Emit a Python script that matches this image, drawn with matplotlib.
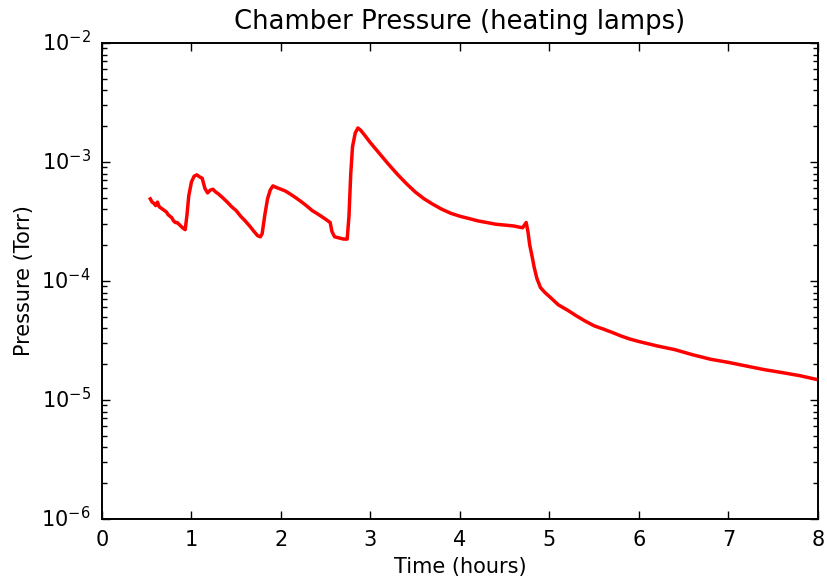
import matplotlib
matplotlib.use("Agg")
import matplotlib.pyplot as plt
from matplotlib.ticker import LogLocator, NullFormatter

plt.style.use("classic")
plt.rcParams["mathtext.fontset"] = "dejavusans"
plt.rcParams["font.family"] = ["DejaVu Sans"]

# time (hours) and pressure (Torr)
time_h = [0.54, 0.56, 0.58, 0.60, 0.62, 0.64, 0.66, 0.68, 0.70, 0.72, 0.74, 0.76,
          0.78, 0.80, 0.82, 0.84, 0.86, 0.88, 0.90, 0.93,
          0.95, 0.97, 1.00, 1.03, 1.06, 1.09, 1.12, 1.15, 1.18, 1.21, 1.24, 1.27,
          1.30, 1.35, 1.40, 1.45, 1.50, 1.55, 1.60, 1.65, 1.70, 1.74, 1.77, 1.79,
          1.82, 1.85, 1.88, 1.91, 1.95, 2.00, 2.05, 2.10, 2.15, 2.20, 2.25, 2.30,
          2.35, 2.40, 2.45, 2.50, 2.55, 2.57, 2.60, 2.65, 2.70, 2.74,
          2.76, 2.78, 2.80, 2.83, 2.86, 2.89, 2.93, 3.00, 3.10, 3.20, 3.30, 3.40,
          3.50, 3.60, 3.70, 3.80, 3.90, 4.00, 4.10, 4.20, 4.30, 4.40, 4.50, 4.60,
          4.70, 4.74, 4.76, 4.78, 4.80, 4.83, 4.86, 4.90, 4.95, 5.00, 5.10, 5.20,
          5.30, 5.40, 5.50, 5.60, 5.70, 5.80, 5.90, 6.00, 6.20, 6.40, 6.60, 6.80,
          7.00, 7.20, 7.40, 7.60, 7.80, 8.00]
pressure_torr = [4.9e-4, 4.6e-4, 4.5e-4, 4.3e-4, 4.6e-4, 4.2e-4, 4.1e-4, 4.0e-4,
                 3.9e-4, 3.8e-4, 3.6e-4, 3.5e-4, 3.4e-4, 3.2e-4, 3.1e-4, 3.1e-4,
                 3.0e-4, 2.9e-4, 2.8e-4, 2.7e-4,
                 3.6e-4, 5.2e-4, 6.8e-4, 7.6e-4, 7.8e-4, 7.5e-4, 7.3e-4, 6.0e-4,
                 5.5e-4, 5.8e-4, 5.9e-4, 5.6e-4, 5.4e-4, 5.0e-4, 4.6e-4, 4.2e-4,
                 3.9e-4, 3.5e-4, 3.2e-4, 2.9e-4, 2.6e-4, 2.4e-4, 2.35e-4, 2.5e-4,
                 3.6e-4, 4.9e-4, 5.8e-4, 6.3e-4, 6.1e-4, 5.9e-4, 5.7e-4, 5.4e-4,
                 5.1e-4, 4.8e-4, 4.5e-4, 4.2e-4, 3.9e-4, 3.7e-4, 3.5e-4, 3.3e-4,
                 3.1e-4, 2.6e-4, 2.35e-4, 2.3e-4, 2.25e-4, 2.25e-4,
                 3.5e-4, 8.0e-4, 1.35e-3, 1.75e-3, 1.93e-3, 1.85e-3, 1.70e-3, 1.45e-3,
                 1.18e-3, 9.6e-4, 7.9e-4, 6.6e-4, 5.6e-4, 4.9e-4, 4.4e-4, 4.0e-4,
                 3.7e-4, 3.5e-4, 3.35e-4, 3.2e-4, 3.1e-4, 3.0e-4, 2.95e-4, 2.9e-4,
                 2.8e-4, 3.1e-4, 2.6e-4, 2.0e-4, 1.7e-4, 1.3e-4, 1.05e-4, 8.8e-5,
                 8.0e-5, 7.4e-5, 6.3e-5, 5.7e-5, 5.1e-5, 4.6e-5, 4.2e-5, 3.95e-5,
                 3.7e-5, 3.45e-5, 3.25e-5, 3.1e-5, 2.85e-5, 2.65e-5, 2.4e-5, 2.2e-5,
                 2.07e-5, 1.93e-5, 1.8e-5, 1.7e-5, 1.6e-5, 1.48e-5]

fig = plt.figure(figsize=(8.27, 5.84), dpi=100, facecolor="white")
ax = fig.add_axes([0.1233, 0.1113, 0.8657, 0.8151])
ax.plot(time_h, pressure_torr, color="red", linewidth=2.5)
ax.set_yscale("log")
ax.set_xlim(0, 8)
ax.set_ylim(1e-6, 1e-2)
ax.yaxis.set_minor_locator(LogLocator(subs=range(2, 10), numticks=100))
ax.yaxis.set_minor_formatter(NullFormatter())
ax.tick_params(which="major", length=6, width=1, labelsize=15, pad=8)
ax.tick_params(which="minor", length=3.5, width=1)
for s in ax.spines.values():
    s.set_linewidth(1.4)
ax.set_xlabel("Time (hours)", fontsize=15)
ax.set_ylabel("Pressure (Torr)", fontsize=15)
ax.set_title("Chamber Pressure (heating lamps)", fontsize=18.6, pad=10)

fig.savefig("out.png", dpi=100, facecolor="white")
